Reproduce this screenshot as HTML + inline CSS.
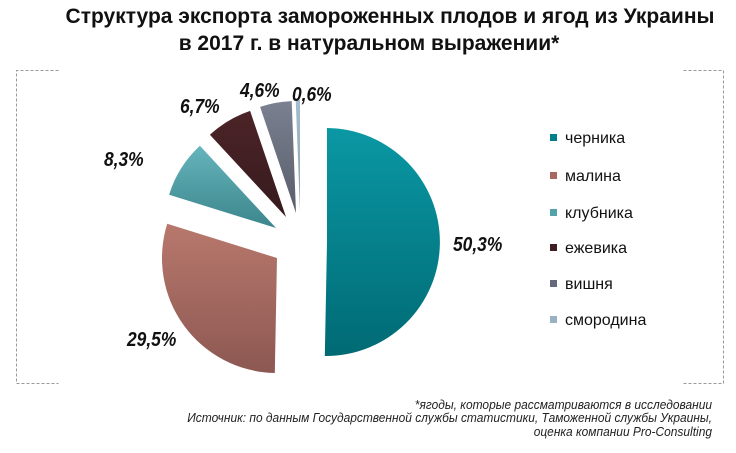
<!DOCTYPE html>
<html><head><meta charset="utf-8"><style>
body{margin:0;background:#fff;width:736px;height:448px;overflow:hidden;font-family:"Liberation Sans",sans-serif}
</style></head><body>
<svg id="s" width="736" height="448" xmlns="http://www.w3.org/2000/svg">
<defs>
<linearGradient id="g0" x1="0" y1="0" x2="0" y2="1"><stop offset="0" stop-color="#0a98a4"/><stop offset="1" stop-color="#006a74"/></linearGradient>
<linearGradient id="g1" x1="0" y1="0" x2="0" y2="1"><stop offset="0" stop-color="#b8786c"/><stop offset="1" stop-color="#8c5852"/></linearGradient>
<linearGradient id="g2" x1="0" y1="0" x2="0" y2="1"><stop offset="0" stop-color="#66b4bc"/><stop offset="1" stop-color="#3c868c"/></linearGradient>
<linearGradient id="g3" x1="0" y1="0" x2="0" y2="1"><stop offset="0" stop-color="#4c2428"/><stop offset="1" stop-color="#361a1d"/></linearGradient>
<linearGradient id="g4" x1="0" y1="0" x2="0" y2="1"><stop offset="0" stop-color="#7a8090"/><stop offset="1" stop-color="#5a5e6c"/></linearGradient>
<linearGradient id="g5" x1="0" y1="0" x2="0" y2="1"><stop offset="0" stop-color="#a4bccc"/><stop offset="1" stop-color="#8aa4b4"/></linearGradient>
</defs>
<g fill="none" stroke="#999" stroke-dasharray="3,2" stroke-width="1">
<path d="M58.5 70.5H16.5V383.5H58.5"/><path d="M683.5 70.5H723.5V383.5H683.5"/>
</g>
<text x="390" y="23" text-anchor="middle" font-size="21" font-weight="bold" fill="#111">Структура экспорта замороженных плодов и ягод из Украины</text>
<text x="369" y="50" text-anchor="middle" font-size="21" font-weight="bold" fill="#111">в 2017 г. в натуральном выражении*</text>
<g id="pie"></g>
<g font-size="20" font-weight="bold" font-style="italic" fill="#111">
<text x="453" y="251" transform="translate(453 0) scale(0.87 1) translate(-453 0)">50,3%</text>
<text x="127" y="346" transform="translate(127 0) scale(0.87 1) translate(-127 0)">29,5%</text>
<text x="104" y="166" transform="translate(104 0) scale(0.87 1) translate(-104 0)">8,3%</text>
<text x="180" y="113" transform="translate(180 0) scale(0.87 1) translate(-180 0)">6,7%</text>
<text x="240" y="97" transform="translate(240 0) scale(0.87 1) translate(-240 0)">4,6%</text>
<text x="292" y="101" transform="translate(292 0) scale(0.87 1) translate(-292 0)">0,6%</text>
</g>
<g font-size="16" fill="#111">
<rect x="550" y="134" width="7" height="7" fill="#007f8a"/><text x="565" y="143">черника</text>
<rect x="550" y="172" width="7" height="7" fill="#a86a60"/><text x="565" y="181">малина</text>
<rect x="550" y="209" width="7" height="7" fill="#52a2aa"/><text x="565" y="218">клубника</text>
<rect x="550" y="244" width="7" height="7" fill="#3e1e22"/><text x="565" y="253">ежевика</text>
<rect x="550" y="280" width="7" height="7" fill="#656a7a"/><text x="565" y="289">вишня</text>
<rect x="550" y="316" width="7" height="7" fill="#98b2c2"/><text x="565" y="325">смородина</text>
</g>
<g font-size="13" font-style="italic" fill="#222" text-anchor="end">
<text x="712" y="409" transform="translate(712 0) scale(0.92 1) translate(-712 0)">*ягоды, которые рассматриваются в исследовании</text>
<text x="712" y="422" transform="translate(712 0) scale(0.92 1) translate(-712 0)">Источник: по данным Государственной службы статистики, Таможенной службы Украины,</text>
<text x="712" y="436" transform="translate(712 0) scale(0.92 1) translate(-712 0)">оценка компании Pro-Consulting</text>
</g>
</svg>
<script>
var sl=[[0,181.1,327,242,114,'g0'],[181.1,287.3,277,258,115,'g1'],[287.3,317.2,276,228,112,'g2'],[317.2,341.3,286,217,112,'g3'],[341.3,357.8,296,213,112,'g4'],[357.8,360,300,211,111,'g5']];
var h='';
sl.forEach(function(s){var a=s[0]*Math.PI/180,b=s[1]*Math.PI/180,cx=s[2],cy=s[3],r=s[4];
var x1=cx+r*Math.sin(a),y1=cy-r*Math.cos(a),x2=cx+r*Math.sin(b),y2=cy-r*Math.cos(b);
var l=(s[1]-s[0])>180?1:0;
h+='<path d="M'+cx+' '+cy+'L'+x1.toFixed(1)+' '+y1.toFixed(1)+'A'+r+' '+r+' 0 '+l+' 1 '+x2.toFixed(1)+' '+y2.toFixed(1)+'Z" fill="url(#'+s[5]+')"/>';});
document.getElementById('pie').innerHTML=h;
</script>
</body></html>
